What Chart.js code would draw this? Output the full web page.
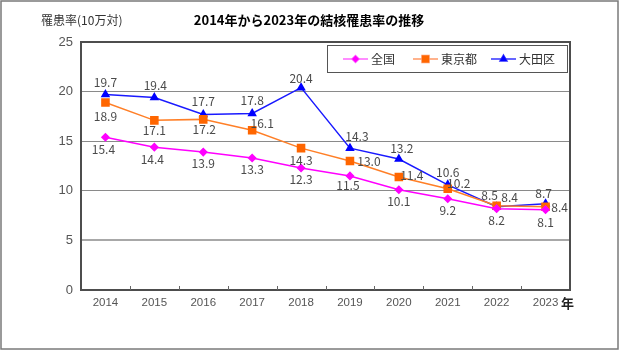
<!DOCTYPE html>
<html><head><meta charset="utf-8">
<script src="https://cdn.jsdelivr.net/npm/chart.js@4/dist/chart.umd.min.js"></script>
<style>html,body{margin:0;padding:0;background:#fff;}#wrap{width:619px;height:350px;}</style>
</head><body><div id="wrap"><canvas id="c" width="619" height="350"></canvas></div>
<script>
const years = ['2014','2015','2016','2017','2018','2019','2020','2021','2022','2023'];
const zenkoku = [15.4, 14.4, 13.9, 13.3, 12.3, 11.5, 10.1, 9.2, 8.2, 8.1];
const tokyo = [18.9, 17.1, 17.2, 16.1, 14.3, 13.0, 11.4, 10.2, 8.5, 8.4];
const ota = [19.7, 19.4, 17.7, 17.8, 20.4, 14.3, 13.2, 10.6, 8.4, 8.7];
const seriesNames = ['全国', '東京都', '大田区'];
const yTicks = [0, 5, 10, 15, 20, 25];
const titleText = '2014年から2023年の結核罹患率の推移';
const yTitleText = '罹患率(10万対)';
const xUnitText = '年';

// label offsets (dx, dy) per series and point — presentation only
const labelOffsets = [
  [[-2,12],[-2,12],[0,11],[0,11],[0,11],[-2,10],[0,12],[0,12],[0,12],[0,13]],
  [[0,14],[0,10],[1,10],[10,-7],[0,12],[19,0],[13,-1],[11,-5],[-7,-10],[14,1]],
  [[0,-12],[1,-12],[0,-13],[0,-13],[0,-9],[7,-12],[3,-11],[0,-12],[13,-9],[-2,-10]]
];

const numFont = '12px "Liberation Sans Narrow", "Noto Sans CJK JP", sans-serif';
const jpFont = '12px "Noto Sans CJK JP", sans-serif';

const framePlugin = {
  id: 'frame',
  beforeDraw(chart) {
    const ctx = chart.ctx;
    ctx.save();
    ctx.fillStyle = '#fff';
    ctx.fillRect(0, 0, chart.width, chart.height);
    ctx.strokeStyle = '#7a7a7a';
    ctx.lineWidth = 1.5;
    ctx.strokeRect(1, 1, chart.width - 2, chart.height - 2);
    ctx.restore();
  },
  beforeDatasetsDraw(chart) {
    const ctx = chart.ctx, a = chart.chartArea;
    ctx.save();
    ctx.strokeStyle = '#4d4d4d';
    ctx.lineWidth = 2;
    ctx.strokeRect(a.left, a.top, a.right - a.left, a.bottom - a.top);
    ctx.lineWidth = 1;
    ctx.strokeStyle = '#666';
    const n = years.length, w = (a.right - a.left) / n;
    for (let i = 1; i < n; i++) {
      const x = Math.round(a.left + i * w) + 0.5;
      ctx.beginPath(); ctx.moveTo(x, a.bottom); ctx.lineTo(x, a.bottom - 4); ctx.stroke();
    }
    ctx.restore();
  },
  afterDraw(chart) {
    const ctx = chart.ctx;
    ctx.save();
    ctx.fillStyle = '#000';
    ctx.font = 'bold 13px "Noto Sans CJK JP", sans-serif';
    ctx.textAlign = 'center'; ctx.textBaseline = 'middle';
    ctx.fillText(titleText, 309, 20);
    ctx.fillStyle = '#333';
    ctx.font = jpFont;
    ctx.textAlign = 'left';
    ctx.fillText(yTitleText, 41, 20);
    ctx.font = 'bold 13px "Noto Sans CJK JP", sans-serif';
    ctx.fillStyle = '#222';
    ctx.fillText(xUnitText, 561, 303);
    ctx.font = numFont;
    ctx.fillStyle = '#4a4a4a';
    ctx.textAlign = 'center'; ctx.textBaseline = 'middle';
    chart.data.datasets.forEach((ds, di) => {
      const meta = chart.getDatasetMeta(di);
      meta.data.forEach((pt, i) => {
        const off = labelOffsets[di][i];
        ctx.fillText(ds.data[i].toFixed(1), pt.x + off[0], pt.y + off[1]);
      });
    });
    ctx.strokeStyle = '#555';
    ctx.lineWidth = 1;
    ctx.strokeRect(327.5, 45.5, 240, 27);
    const lx = [343, 413, 491];
    chart.data.datasets.forEach((ds, di) => {
      const x0 = lx[di], y0 = 59;
      ctx.strokeStyle = ds.legendLine;
      ctx.lineWidth = 1.5;
      ctx.beginPath(); ctx.moveTo(x0, y0); ctx.lineTo(x0 + 25, y0); ctx.stroke();
      Chart.helpers.drawPoint(ctx, {pointStyle: ds.pointStyle, radius: ds.pointRadius, borderWidth: 1}, x0 + 12.5, y0);
      ctx.fillStyle = ds.pointBackgroundColor;
      ctx.fill();
      ctx.fillStyle = '#333';
      ctx.font = jpFont;
      ctx.textAlign = 'left';
      ctx.fillText(ds.label, x0 + 28, y0);
    });
    ctx.restore();
  }
};

new Chart(document.getElementById('c'), {
  type: 'line',
  data: {
    labels: years,
    datasets: [
      { label: seriesNames[0], data: zenkoku, borderColor: '#ff00ff', legendLine: '#ff66ff', backgroundColor: '#ff00ff',
        pointStyle: 'rectRot', pointRadius: 3.5, pointBackgroundColor: '#ff00ff', pointBorderColor: '#ff00ff', borderWidth: 1.5 },
      { label: seriesNames[1], data: tokyo, borderColor: '#ff7f27', legendLine: '#ff9966', backgroundColor: '#ff6600',
        pointStyle: 'rect', pointRadius: 5, pointBackgroundColor: '#ff6600', pointBorderColor: '#ff6600', borderWidth: 1.5 },
      { label: seriesNames[2], data: ota, borderColor: '#1a1aff', legendLine: '#3333ff', backgroundColor: '#0000ff',
        pointStyle: 'triangle', pointRadius: 4, pointBackgroundColor: '#0000ff', pointBorderColor: '#0000ff', borderWidth: 1.5 }
    ]
  },
  options: {
    responsive: false,
    animation: false,
    devicePixelRatio: 1,
    layout: { padding: { left: 41, right: 49, top: 42, bottom: 30 } },
    plugins: { legend: { display: false }, title: { display: false }, tooltip: { enabled: false } },
    elements: { line: { tension: 0 } },
    scales: {
      x: {
        offset: true,
        afterFit(s) { s.height = 30; },
        grid: { display: false, drawTicks: false },
        border: { display: false },
        ticks: { padding: 6, color: '#555', font: { family: '"Liberation Sans Narrow", sans-serif', size: 11.5 } }
      },
      y: {
        min: 0, max: 25,
        afterFit(s) { s.width = 40; },
        afterBuildTicks(s) { s.ticks = yTicks.map(v => ({ value: v })); },
        grid: { drawTicks: false, color: ctx => ctx.tick && ctx.tick.value === 5 ? '#a8a8a8' : '#8a8a8a',
                lineWidth: ctx => ctx.tick && ctx.tick.value === 5 ? 2 : 1 },
        border: { display: false },
        ticks: { padding: 8, color: '#555', font: { family: '"Liberation Sans Narrow", sans-serif', size: 13 } }
      }
    }
  },
  plugins: [framePlugin]
});
</script></body></html>
